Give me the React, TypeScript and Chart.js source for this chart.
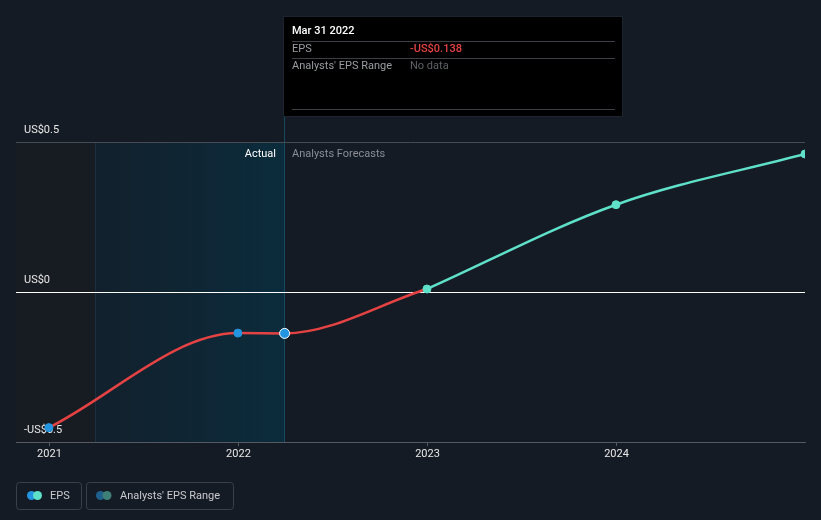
import React, { useEffect, useRef } from 'react';
import { Chart, registerables } from 'chart.js';

Chart.register(...registerables);

// ---- data ----
const actualDates = [2020.997, 2021.997, 2022.244, 2022.997];
const actualEps = [-0.452, -0.137, -0.138, 0.01];
const forecastDates = [2022.997, 2023.997, 2024.997];
const forecastEps = [0.01, 0.291, 0.46];
const xTickYears = [2021, 2022, 2023, 2024];
const yTickValues = [-0.5, 0, 0.5];
const yTickLabels = ['-US$0.5', 'US$0', 'US$0.5'];
const actualRange = [2021.244, 2022.244];
const xRange = [2020.823, 2024.997];
const tooltipDate = 'Mar 31 2022';
const tooltipEps = '-US$0.138';

const BG = '#151b25';
const RED = '#e54343';
const TEAL = '#5fe0c8';
const BLUE = '#2394df';
const FONT = 'Roboto, "Open Sans", sans-serif';

const overlayPlugin = {
  id: 'overlay',
  beforeDraw(chart: any) {
    const { ctx, chartArea: a, scales } = chart;
    const x1 = scales.x.getPixelForValue(actualRange[0]);
    const x2 = scales.x.getPixelForValue(actualRange[1]);
    ctx.save();
    ctx.fillStyle = 'rgba(30,28,28,0.25)';
    ctx.fillRect(a.left, a.top, x1 - a.left, a.bottom - a.top);
    const g = ctx.createLinearGradient(x1, 0, x2, 0);
    g.addColorStop(0, 'rgba(10,50,70,0.25)');
    g.addColorStop(1, 'rgba(0,66,90,0.45)');
    ctx.fillStyle = g;
    ctx.fillRect(x1, a.top, x2 - x1, a.bottom - a.top);
    ctx.lineWidth = 1;
    ctx.strokeStyle = 'rgba(30,62,82,0.6)';
    ctx.beginPath();
    ctx.moveTo(Math.floor(x1) + 0.5, a.top);
    ctx.lineTo(Math.floor(x1) + 0.5, a.bottom);
    ctx.stroke();
    ctx.strokeStyle = '#164a5e';
    ctx.beginPath();
    ctx.moveTo(Math.floor(x2) + 0.5, 117);
    ctx.lineTo(Math.floor(x2) + 0.5, a.bottom);
    ctx.stroke();
    ctx.restore();
  },
  afterDraw(chart: any) {
    const { ctx, chartArea: a, scales } = chart;
    const x2 = Math.floor(scales.x.getPixelForValue(actualRange[1]));
    ctx.save();
    ctx.textBaseline = 'middle';
    ctx.font = `11px ${FONT}`;
    ctx.fillStyle = '#ffffff';
    ctx.textAlign = 'right';
    ctx.fillText('Actual', x2 - 8, a.top + 12);
    ctx.textAlign = 'left';
    ctx.fillStyle = '#8a8d93';
    ctx.fillText('Analysts Forecasts', x2 + 8, a.top + 12);

    // tooltip
    const bx = x2 - 1, by = 16, bw = 340, bh = 101;
    ctx.fillStyle = '#000000';
    ctx.fillRect(bx, by, bw, bh);
    ctx.strokeStyle = '#1c2430';
    ctx.strokeRect(bx + 0.5, by + 0.5, bw - 1, bh - 1);
    const tx = bx + 9;
    ctx.fillStyle = '#ffffff';
    ctx.font = `500 11px ${FONT}`;
    ctx.fillText(tooltipDate, tx, 31);
    ctx.strokeStyle = '#3d3f44';
    [41.5, 58.5, 109.5].forEach((y) => {
      ctx.beginPath();
      ctx.moveTo(tx, y);
      ctx.lineTo(bx + bw - 8, y);
      ctx.stroke();
    });
    ctx.font = `11px ${FONT}`;
    ctx.fillStyle = '#9a9ca1';
    ctx.fillText('EPS', tx, 49.5);
    ctx.fillText("Analysts' EPS Range", tx, 66.5);
    ctx.fillStyle = RED;
    ctx.font = `500 11px ${FONT}`;
    ctx.fillText(tooltipEps, bx + 127, 49.5);
    ctx.fillStyle = '#5f6166';
    ctx.font = `11px ${FONT}`;
    ctx.fillText('No data', bx + 127, 66.5);

    // legend
    const drawBox = (x: number, w: number) => {
      ctx.strokeStyle = '#3a3f48';
      ctx.lineWidth = 1;
      ctx.beginPath();
      ctx.roundRect(x + 0.5, 482.5, w, 27, 3);
      ctx.stroke();
    };
    const dot = (x: number, c: string) => {
      ctx.fillStyle = c;
      ctx.beginPath();
      ctx.arc(x, 495.5, 4.5, 0, Math.PI * 2);
      ctx.fill();
    };
    drawBox(16, 65);
    dot(31.5, BLUE);
    dot(37.5, TEAL);
    ctx.fillStyle = '#c8cacd';
    ctx.font = `11px ${FONT}`;
    ctx.textAlign = 'left';
    ctx.fillText('EPS', 50, 496);
    drawBox(86, 147);
    dot(100.5, '#1f5f8c');
    dot(107, '#3e7f78');
    ctx.fillStyle = '#c8cacd';
    ctx.fillText("Analysts' EPS Range", 120, 496);
    ctx.restore();
  },
};

export default function App() {
  const ref = useRef<HTMLCanvasElement>(null);
  useEffect(() => {
    document.body.style.margin = '0';
    document.body.style.background = BG;
    const chart = new Chart(ref.current as HTMLCanvasElement, {
      type: 'line',
      data: {
        datasets: [
          {
            label: 'Forecast',
            data: forecastDates.map((x, i) => ({ x, y: forecastEps[i] })),
            borderColor: TEAL,
            backgroundColor: TEAL,
            pointBackgroundColor: TEAL,
            pointBorderColor: TEAL,
            pointRadius: 4,
            pointBorderWidth: 1,
            borderWidth: 2.5,
            cubicInterpolationMode: 'monotone',
            order: 0,
          },
          {
            label: 'EPS',
            data: actualDates.map((x, i) => ({ x, y: actualEps[i] })),
            borderColor: RED,
            backgroundColor: RED,
            pointBackgroundColor: BLUE,
            pointBorderColor: [BLUE, BLUE, '#ffffff', BLUE],
            pointBorderWidth: [1, 1, 1, 0],
            pointRadius: [4, 4, 5, 0],
            borderWidth: 2.5,
            cubicInterpolationMode: 'monotone',
            order: 1,
          },
        ],
      },
      options: {
        responsive: false,
        animation: false,
        events: [],
        layout: { padding: { left: 16, right: 16, top: 142, bottom: 0 } },
        plugins: { legend: { display: false }, tooltip: { enabled: false } },
        scales: {
          x: {
            type: 'linear',
            min: xRange[0],
            max: xRange[1],
            afterBuildTicks: (s: any) => {
              s.ticks = xTickYears.map((v) => ({ value: v }));
            },
            afterFit: (s: any) => {
              s.height = 78;
            },
            ticks: {
              callback: (v: any) => String(v),
              color: '#e8e8e8',
              font: { size: 11, family: FONT },
              padding: 2,
              maxRotation: 0,
              autoSkip: false,
            },
            grid: { display: true, drawOnChartArea: false, drawTicks: true, tickLength: 4, color: '#555a62' },
            border: { display: true, color: '#555a62' },
          },
          y: {
            type: 'linear',
            min: -0.5,
            max: 0.5,
            afterBuildTicks: (s: any) => {
              s.ticks = yTickValues.map((v) => ({ value: v }));
            },
            afterFit: (s: any) => {
              s.width = 0;
            },
            ticks: {
              mirror: true,
              padding: 8,
              labelOffset: -12,
              color: '#e8e8e8',
              font: { size: 11, family: FONT },
              callback: (v: any) => {
                const i = yTickValues.indexOf(Number(v));
                return i >= 0 ? yTickLabels[i] : '';
              },
            },
            grid: {
              drawTicks: false,
              color: (c: any) => (c.tick && c.tick.value === 0 ? '#ffffff' : '#474b53'),
            },
            border: { display: false },
          },
        },
      },
      plugins: [overlayPlugin],
    } as any);
    return () => chart.destroy();
  }, []);
  return (
    <div style={{ width: 821, height: 520, background: BG }}>
      <canvas ref={ref} width={821} height={520} style={{ display: 'block', width: 821, height: 520 }} />
    </div>
  );
}
